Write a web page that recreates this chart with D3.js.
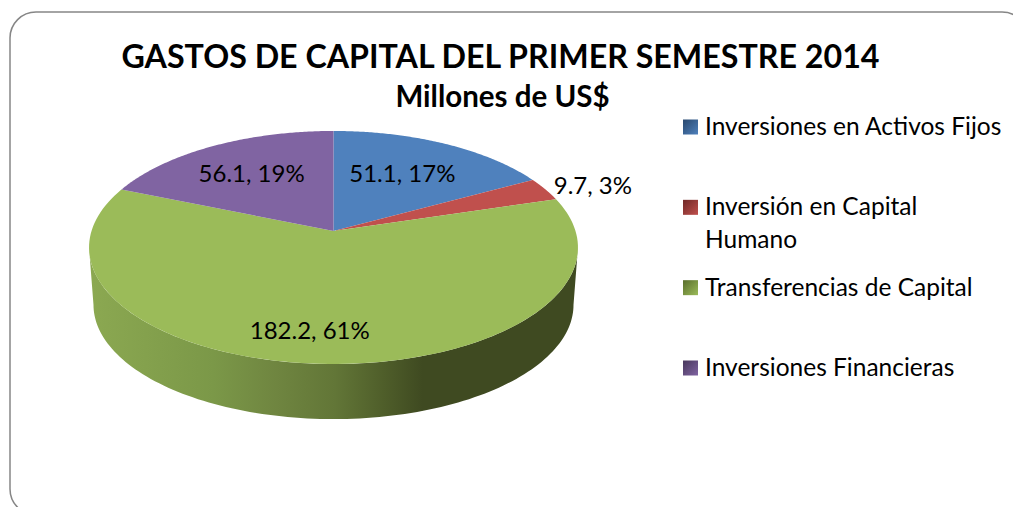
<!DOCTYPE html>
<html><head><meta charset="utf-8">
<style>html,body{margin:0;padding:0;background:#fff;overflow:hidden}svg{display:block}text{font-family:Lato,"Open Sans",sans-serif;fill:#000}</style>
<script src="https://cdn.jsdelivr.net/npm/d3@7/dist/d3.min.js"></script>
</head><body><svg id="c" width="1013" height="507"></svg>
<script>
const titleText = "GASTOS DE CAPITAL DEL PRIMER SEMESTRE 2014";
const subtitleText = "Millones de US$";
const categories = ["Inversiones en Activos Fijos","Inversión en Capital Humano","Transferencias de Capital","Inversiones Financieras"];
const legendLines = [["Inversiones en Activos Fijos"],["Inversión en Capital","Humano"],["Transferencias de Capital"],["Inversiones Financieras"]];
const values = [51.1, 9.7, 182.2, 56.1];
const percents = [17, 3, 61, 19];
const colors = ["#4f81bd","#c0504d","#9bbb59","#8064a2"];
const swatchDark = ["#2c4d75","#772c2a","#5f7530","#4d3b62"];

const svg = d3.select("#c");
const defs = svg.append("defs");

svg.append("rect").attr("x",10).attr("y",12).attr("width",1018).attr("height",503).attr("rx",26).attr("ry",26)
  .attr("fill","#fff").attr("stroke","#868686").attr("stroke-width",1.5);

svg.append("text").attr("x",500.5).attr("y",68).attr("text-anchor","middle").attr("font-weight",700).attr("font-size",32.2).text(titleText);
svg.append("text").attr("x",502.5).attr("y",107).attr("text-anchor","middle").attr("font-weight",700).attr("font-size",29.5).text(subtitleText);

// Perspective disc projection
const persp = 0.1416;
function projector(X0,Y0,A,B){
  return (a,f=1)=>{
    const u=Math.sin(a)*f, v=Math.cos(a)*f, d=1+persp*v;
    return [X0+A*u/d, Y0-B*v/d];
  };
}
const topP = projector(333.5,231,242,114.2);
const botP = projector(333.5,288.6,237.6,112);

const pie = d3.pie().sort(null).value(d=>d);
const arcs = pie(values);
const line = d3.line();
const sample = (a0,a1)=>d3.range(0,121).map(i=>a0+(a1-a0)*i/120);

// Side wall (only the front part of the rim shows)
const sideMin = Math.acos(-persp), sideMax = 2*Math.PI-sideMin;
const sideStops = [[0,"#8ba851"],[0.25,"#7b9848"],[0.38,"#6f8540"],[0.5,"#627637"],[0.6,"#4f5e2a"],[0.68,"#3f4a21"],[1,"#3f4a21"]];
const grad = defs.append("linearGradient").attr("id","side").attr("gradientUnits","userSpaceOnUse")
  .attr("x1",92).attr("x2",578).attr("y1",0).attr("y2",0);
sideStops.forEach(s=>grad.append("stop").attr("offset",s[0]).attr("stop-color",s[1]));

arcs.forEach(d=>{
  const a0=Math.max(d.startAngle,sideMin), a1=Math.min(d.endAngle,sideMax);
  if(a1<=a0) return;
  const pts=sample(a0,a1).map(a=>topP(a)).concat(sample(a1,a0).map(a=>botP(a)));
  svg.append("path").attr("d",line(pts)+"Z").attr("fill","url(#side)");
});

// Top face
arcs.forEach((d,i)=>{
  const pts=[topP(0,0)].concat(sample(d.startAngle,d.endAngle).map(a=>topP(a)));
  svg.append("path").attr("d",line(pts)+"Z").attr("fill",colors[i]);
});

// Data labels
const labelFrac=[0.62,1.24,0.8,0.6], labelDx=[-2.5,0,-13,-6.5], labelDy=[0,6,-3,-4];
arcs.forEach((d,i)=>{
  const p=topP((d.startAngle+d.endAngle)/2,labelFrac[i]);
  svg.append("text").attr("x",p[0]+labelDx[i]).attr("y",p[1]+labelDy[i]+8).attr("text-anchor","middle")
    .attr("font-size",24).text(`${values[i]}, ${percents[i]}%`);
});

// Legend
const legendY = d3.scalePoint().domain(categories).range([127,368]);
categories.forEach((c,i)=>{
  const y=legendY(c);
  const g=defs.append("linearGradient").attr("id","sw"+i).attr("x1",0).attr("y1",0).attr("x2",1).attr("y2",1);
  g.append("stop").attr("offset",0.1).attr("stop-color",swatchDark[i]);
  g.append("stop").attr("offset",1).attr("stop-color",colors[i]);
  svg.append("rect").attr("x",683).attr("y",y-7.5).attr("width",15).attr("height",15).attr("fill",`url(#sw${i})`);
  legendLines[i].forEach((t,j)=>{
    svg.append("text").attr("x",705).attr("y",y+8+j*33).attr("font-size",24.5).text(t);
  });
});
</script></body></html>
